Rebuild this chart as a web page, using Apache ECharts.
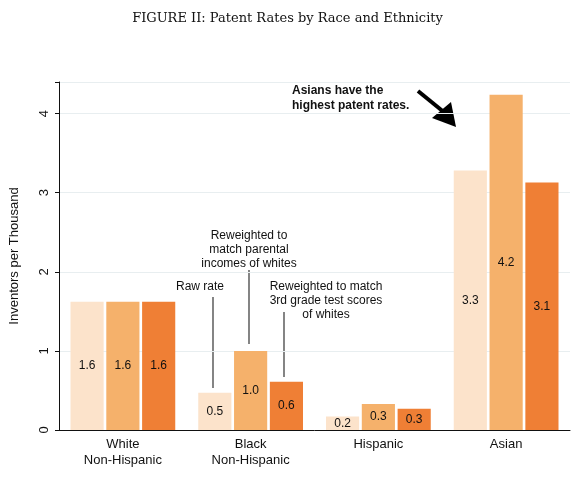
<!DOCTYPE html><html><head><meta charset="utf-8">
<script src="https://cdn.jsdelivr.net/npm/echarts@6/dist/echarts.min.js"></script>
<style>body{margin:0}#c{width:575px;height:480px}</style></head><body><div id="c"></div>
<script>
const categories=['White\nNon-Hispanic','Black\nNon-Hispanic','Hispanic','Asian'];
const rawRate=[1.62,0.47,0.17,3.28];
const incomeWeighted=[1.62,1.0,0.33,4.24];
const testWeighted=[1.62,0.61,0.27,3.13];
const seriesNames=['Raw rate','Reweighted to match parental incomes of whites','Reweighted to match 3rd grade test scores of whites'];
const colors=['#FCE3CB','#F5B16B','#EF7F35'];
const lbl={show:true,position:'inside',color:'#111',fontSize:12,fontFamily:'Liberation Sans',formatter:p=>p.value.toFixed(1)};
const mk=(n,d,i)=>({name:n,type:'bar',data:d,barGap:'8%',barCategoryGap:'18%',itemStyle:{color:colors[i],borderWidth:0},label:lbl,silent:true});
const ann=(x,y,t)=>({type:'text',x:x,y:y,style:{text:t,font:'12px Liberation Sans',fill:'#111',textAlign:'center',lineHeight:14}});
const ln=(x,y1,y2)=>({type:'line',shape:{x1:x,y1:y1,x2:x,y2:y2},style:{stroke:'#333',lineWidth:1.2}});
const chart=echarts.init(document.getElementById('c'));
chart.setOption({
 animation:false,
 title:{text:'FIGURE II: Patent Rates by Race and Ethnicity',left:'center',top:7,textStyle:{fontFamily:'DejaVu Serif',fontWeight:'normal',fontSize:13,color:'#111'}},
 grid:{left:55,right:5,top:82,bottom:50},
 xAxis:{type:'category',data:categories,axisTick:{show:false},axisLine:{lineStyle:{color:'#111'}},axisLabel:{color:'#111',fontSize:13,fontFamily:'Liberation Sans',lineHeight:16,margin:6}},
 yAxis:{type:'value',min:0,max:4.4,interval:1,name:'Inventors per Thousand',nameLocation:'middle',nameGap:38,nameTextStyle:{fontSize:13,color:'#111',fontFamily:'Liberation Sans'},
  axisLine:{show:true,lineStyle:{color:'#111'}},axisTick:{show:true,length:4},splitLine:{lineStyle:{color:'#e8eef0'}},
  axisLabel:{rotate:90,color:'#111',fontSize:13,formatter:v=>Number.isInteger(v)?String(v):''}},
 series:[mk(seriesNames[0],rawRate,0),mk(seriesNames[1],incomeWeighted,1),mk(seriesNames[2],testWeighted,2)],
 graphic:[
  ann(200,280,'Raw rate'),ln(213,297,388),
  ann(249,229,'Reweighted to\nmatch parental\nincomes of whites'),ln(249,270,344),
  ann(326,280,'Reweighted to match\n3rd grade test scores\nof whites'),ln(284,312,377),
  {type:'text',x:292,y:83,style:{text:'Asians have the\nhighest patent rates.',font:'bold 12px Liberation Sans',fill:'#111',lineHeight:15}},
  {type:'line',shape:{x1:418,y1:91,x2:445,y2:113},style:{stroke:'#000',lineWidth:4}},
  {type:'polygon',shape:{points:[[432,118],[456,127],[451,102]]},style:{fill:'#000'}}
 ]
});
</script></body></html>
